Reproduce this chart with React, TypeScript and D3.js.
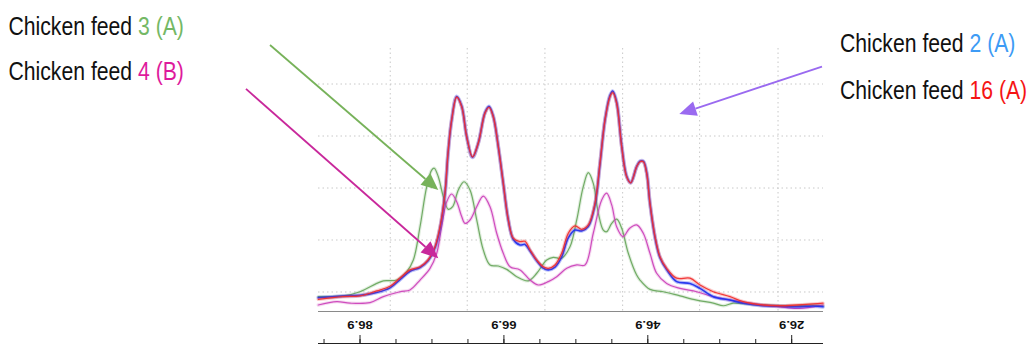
import React from "react";
import * as d3 from "d3";

// Spectra of four chicken-feed samples: [axis value, intensity]
const feed2A: [number, number][] = [
  [92.7, 0.078], [89.27, 0.084], [86.9, 0.087], [84.58, 0.098], [82.73, 0.116], [81.34, 0.148],
  [79.95, 0.18], [78.56, 0.194], [77.45, 0.22], [76.48, 0.27], [75.78, 0.345], [75.09, 0.478],
  [74.67, 0.632], [74.16, 0.762], [73.46, 0.852], [72.77, 0.815], [72.07, 0.697], [71.27, 0.618],
  [70.46, 0.673], [69.53, 0.79], [68.97, 0.814], [68.38, 0.776], [67.68, 0.659], [66.99, 0.518],
  [66.29, 0.377], [65.6, 0.303], [64.66, 0.281], [63.97, 0.283], [63.27, 0.258], [62.34, 0.22],
  [61.43, 0.192], [60.73, 0.185], [59.8, 0.196], [58.87, 0.235], [57.95, 0.308], [57.02, 0.338],
  [56.09, 0.335], [55.17, 0.352], [54.24, 0.436], [53.55, 0.592], [52.85, 0.762], [52.16, 0.856],
  [51.78, 0.873], [51.23, 0.83], [50.53, 0.662], [49.84, 0.545], [49.28, 0.52], [48.45, 0.582],
  [47.99, 0.603], [47.53, 0.603], [47.06, 0.56], [46.6, 0.441], [45.9, 0.31], [45.21, 0.232],
  [44.28, 0.186], [42.89, 0.14], [41.04, 0.133], [39.65, 0.114], [37.8, 0.082], [35.48, 0.069],
  [33.63, 0.057], [30.85, 0.047], [28.53, 0.045], [26.21, 0.043], [23.9, 0.046], [22.55, 0.043],
];

const feed16A: [number, number][] = [
  [92.7, 0.072], [89.27, 0.082], [86.9, 0.085], [84.58, 0.104], [82.73, 0.122], [81.34, 0.154],
  [79.95, 0.185], [78.56, 0.197], [77.45, 0.223], [76.48, 0.274], [75.78, 0.351], [75.09, 0.481],
  [74.67, 0.635], [74.16, 0.762], [73.46, 0.849], [72.77, 0.813], [72.07, 0.697], [71.27, 0.62],
  [70.46, 0.673], [69.53, 0.788], [68.97, 0.81], [68.38, 0.774], [67.68, 0.659], [66.99, 0.518],
  [66.29, 0.377], [65.6, 0.307], [64.66, 0.294], [63.97, 0.295], [63.27, 0.262], [62.34, 0.223],
  [61.43, 0.197], [60.73, 0.191], [59.8, 0.204], [58.87, 0.249], [57.95, 0.326], [57.02, 0.354],
  [56.09, 0.341], [55.17, 0.358], [54.24, 0.441], [53.55, 0.595], [52.85, 0.762], [52.16, 0.851],
  [51.78, 0.867], [51.23, 0.826], [50.53, 0.659], [49.84, 0.543], [49.28, 0.52], [48.45, 0.582],
  [47.99, 0.601], [47.53, 0.601], [47.06, 0.557], [46.6, 0.441], [45.9, 0.313], [45.21, 0.236],
  [44.28, 0.191], [42.89, 0.153], [41.04, 0.153], [39.65, 0.127], [37.8, 0.101], [35.48, 0.082],
  [33.63, 0.063], [30.85, 0.05], [28.53, 0.047], [26.21, 0.05], [23.9, 0.054], [22.55, 0.057],
];

const feed3A: [number, number][] = [
  [92.7, 0.082], [89.22, 0.085], [86.9, 0.101], [84.58, 0.133], [83.66, 0.143], [81.8, 0.146],
  [80.41, 0.178], [79.49, 0.223], [78.56, 0.351], [77.63, 0.505], [76.94, 0.569], [76.58, 0.576],
  [76.02, 0.543], [75.32, 0.467], [74.63, 0.418], [74.02, 0.428], [73.24, 0.492], [72.45, 0.524],
  [71.61, 0.492], [70.68, 0.377], [69.77, 0.262], [68.83, 0.204], [67.68, 0.2], [66.51, 0.187],
  [65.12, 0.159], [63.51, 0.143], [62.34, 0.172], [60.95, 0.223], [60.04, 0.233], [58.87, 0.23],
  [57.72, 0.274], [56.78, 0.377], [55.87, 0.505], [55.17, 0.559], [54.48, 0.518], [53.78, 0.403],
  [53.09, 0.338], [52.62, 0.332], [51.92, 0.364], [51.23, 0.38], [50.53, 0.345], [49.61, 0.249],
  [48.45, 0.165], [47.99, 0.146], [46.6, 0.11], [44.75, 0.101], [42.43, 0.085], [40.11, 0.069],
  [37.8, 0.057], [36.41, 0.047], [35.02, 0.057], [32.7, 0.053], [29.92, 0.049], [27.14, 0.046],
  [24.36, 0.05], [22.55, 0.047],
];

const feed4B: [number, number][] = [
  [92.7, 0.05], [90.14, 0.063], [88.29, 0.057], [85.51, 0.059], [83.66, 0.082], [81.34, 0.101],
  [79.95, 0.108], [78.56, 0.146], [77.17, 0.191], [76.24, 0.249], [75.55, 0.351], [74.85, 0.447],
  [74.16, 0.477], [73.46, 0.447], [72.77, 0.39], [72.31, 0.364], [71.61, 0.377], [70.68, 0.428],
  [69.77, 0.469], [68.83, 0.428], [67.9, 0.326], [66.99, 0.249], [66.05, 0.197], [64.66, 0.185],
  [63.27, 0.146], [62.12, 0.127], [60.73, 0.14], [59.56, 0.159], [58.17, 0.191], [56.78, 0.204],
  [55.63, 0.204], [54.48, 0.326], [53.31, 0.454], [52.62, 0.48], [51.92, 0.435], [51.23, 0.351],
  [50.35, 0.313], [49.42, 0.345], [48.45, 0.358], [47.53, 0.326], [46.6, 0.249], [45.67, 0.172],
  [44.28, 0.133], [42.43, 0.114], [40.11, 0.101], [37.8, 0.082], [35.48, 0.069], [33.16, 0.059],
  [30.85, 0.05], [28.53, 0.043], [26.21, 0.037], [23.9, 0.043], [22.55, 0.05],
];

// Axis values
const majorTicks = [86.9, 66.9, 46.9, 26.9];
const minorTicks = d3.range(0, 14).map((i) => 91.9 - i * 5);
const gridX = [82.7, 72.0, 61.2, 50.4, 39.7, 28.8];
const gridY = [0.1, 0.3, 0.5, 0.7, 0.9];

// Legend entries
const leftLegend = [
  { label: "Chicken feed ", tag: "3 (A)", color: "#74b865" },
  { label: "Chicken feed ", tag: "4 (B)", color: "#de1a9c" },
];
const rightLegend = [
  { label: "Chicken feed ", tag: "2 (A)", color: "#3d9bf5" },
  { label: "Chicken feed ", tag: "16 (A)", color: "#f51414" },
];

// Pointer arrows: from -> to in axis units
const arrows = [
  { from: [99.41, 1.05], to: [76.02, 0.492], color: "#77b25a" },
  { from: [102.75, 0.881], to: [76.02, 0.23], color: "#c8289b" },
  { from: [22.69, 0.967], to: [42.52, 0.785], color: "#9a6af0" },
];

const W = 1034;
const H = 345;
const plot = { left: 318, right: 823, top: 48, bottom: 311 };

export default function App() {
  const x = d3.scaleLinear().domain([92.74, 22.55]).range([plot.left, plot.right]);
  const y = d3.scaleLinear().domain([0.0269, 1.0385]).range([plot.bottom, plot.top]);

  const line = d3
    .line<[number, number]>()
    .x((d) => x(d[0]))
    .y((d) => y(d[1]))
    .curve(d3.curveCatmullRom.alpha(0.5));

  const series = [
    { data: feed3A, color: "#6aa85e", width: 1.2, halo: 0.2 },
    { data: feed4B, color: "#cc44bb", width: 1.2, halo: 0.2 },
    { data: feed2A, color: "#2233ee", width: 1.6, halo: 0.3 },
    { data: feed16A, color: "#f03030", width: 1.3, halo: 0.25 },
  ];

  const arrowShapes = arrows.map((a) => {
    const x0 = x(a.from[0]);
    const y0 = y(a.from[1]);
    const x1 = x(a.to[0]);
    const y1 = y(a.to[1]);
    const len = Math.hypot(x1 - x0, y1 - y0);
    const ux = (x1 - x0) / len;
    const uy = (y1 - y0) / len;
    const head = 17;
    const half = 7.5;
    const bx = x1 - ux * head;
    const by = y1 - uy * head;
    const pts = [
      [x1, y1],
      [bx - uy * half, by + ux * half],
      [bx + uy * half, by - ux * half],
    ];
    return { x0, y0, bx, by, pts, color: a.color };
  });

  const legendFont = "'Liberation Sans', Arial, sans-serif";

  return (
    <svg
      width={W}
      height={H}
      style={{ position: "absolute", left: 0, top: 0, background: "#fff" }}
    >
      {/* dotted grid */}
      <g stroke="#c8c8c8" strokeWidth={1} strokeDasharray="1.5,3">
        {gridX.map((v) => (
          <line key={`gx${v}`} x1={x(v)} x2={x(v)} y1={plot.top} y2={plot.bottom} />
        ))}
        {gridY.map((v) => (
          <line key={`gy${v}`} x1={plot.left} x2={plot.right} y1={y(v)} y2={y(v)} />
        ))}
      </g>

      {/* spectra */}
      {series.map((s, i) => (
        <g key={i} fill="none" strokeLinejoin="round" strokeLinecap="round">
          <path d={line(s.data) || ""} stroke={s.color} strokeWidth={s.width + 2.2} opacity={s.halo} />
          <path d={line(s.data) || ""} stroke={s.color} strokeWidth={s.width} opacity={0.95} />
        </g>
      ))}

      {/* axis line */}
      <line x1={plot.left} x2={plot.right} y1={plot.bottom + 0.5} y2={plot.bottom + 0.5} stroke="#8a8a8a" strokeWidth={1.2} />

      {/* tick strip */}
      <line x1={plot.left} x2={plot.right} y1={343.5} y2={343.5} stroke="#222" strokeWidth={1} />
      {minorTicks.map((v) => (
        <line key={`mt${v}`} x1={x(v)} x2={x(v)} y1={339} y2={344} stroke="#222" strokeWidth={1} />
      ))}
      {majorTicks.map((v) => (
        <line key={`Mt${v}`} x1={x(v)} x2={x(v)} y1={335} y2={344} stroke="#222" strokeWidth={1} />
      ))}
      {majorTicks.map((v) => (
        <text
          key={`lb${v}`}
          transform={`translate(${x(v)},325) rotate(180) scale(1,0.85)`}
          textAnchor="middle"
          dominantBaseline="central"
          fontFamily="'Liberation Sans', Arial, sans-serif"
          fontWeight="bold"
          fontSize={13}
          fill="#111"
        >
          {v.toFixed(1)}
        </text>
      ))}

      {/* pointer arrows */}
      {arrowShapes.map((a, i) => (
        <g key={`ar${i}`}>
          <line x1={a.x0} y1={a.y0} x2={a.bx} y2={a.by} stroke={a.color} strokeWidth={1.8} />
          <polygon points={a.pts.map((p) => p.join(",")).join(" ")} fill={a.color} />
        </g>
      ))}

      {/* legend text */}
      {leftLegend.map((l, i) => (
        <text
          key={`ll${i}`}
          transform={`translate(8.5,${34.5 + i * 45}) scale(0.815,1)`}
          fontFamily={legendFont}
          fontSize={26}
          fill="#111"
        >
          {l.label}
          <tspan fill={l.color}>{l.tag}</tspan>
        </text>
      ))}
      {rightLegend.map((l, i) => (
        <text
          key={`rl${i}`}
          transform={`translate(840,${51.5 + i * 47.5}) scale(0.815,1)`}
          fontFamily={legendFont}
          fontSize={26}
          fill="#111"
        >
          {l.label}
          <tspan fill={l.color}>{l.tag}</tspan>
        </text>
      ))}
    </svg>
  );
}
